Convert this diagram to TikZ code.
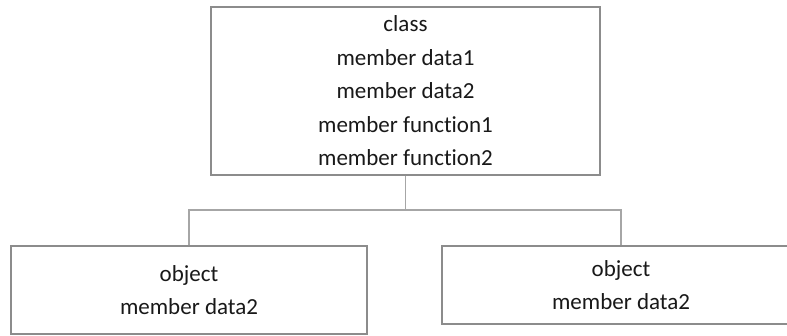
\documentclass[tikz,border=0pt]{standalone}
\usepackage{fontspec}
\setmainfont[Ligatures=NoCommon]{Carlito}
\begin{document}
\begin{tikzpicture}[x=1pt,y=-1pt,
  box/.style={draw=black!45, line width=1.4pt, rectangle, inner sep=0pt,
    align=center, text=black!90, font=\fontsize{23}{33.5}\selectfont},
  link/.style={draw=black!35, line width=1.2pt}]
  \clip (0,0) rectangle (787,335);
  \fill[white] (0,0) rectangle (787,335);
  % class box with its members
  \node[box, minimum width=389pt, minimum height=168pt] (cls) at (405.5,91)
    {class\\member data1\\member data2\\member function1\\member function2};
  % the two objects
  \node[box, minimum width=356pt, minimum height=88pt] (objL) at (189,290)
    {object\\member data2};
  \node[box, minimum width=358pt, minimum height=78pt] (objR) at (621,285)
    {object\\member data2};
  % tree connector
  \coordinate (j) at (405.5,210);
  \draw[link] (cls.south) -- (j);
  \draw[link] (objL.north) |- (j) -| (objR.north);
\end{tikzpicture}
\end{document}
